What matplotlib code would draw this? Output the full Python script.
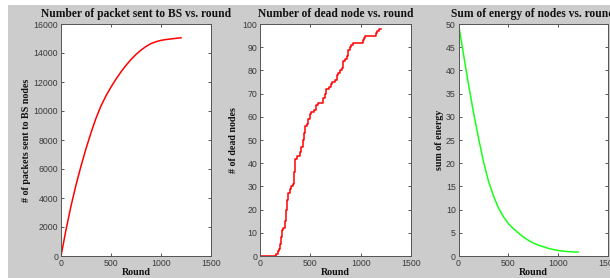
import matplotlib
matplotlib.use("Agg")
import matplotlib.pyplot as plt
from matplotlib.patches import Rectangle

# ---- data ----
rounds_pk = [0, 50, 100, 150, 200, 250, 300, 350, 400, 450, 500, 550, 600, 650, 700,
             750, 800, 850, 900, 950, 1000, 1050, 1100, 1150, 1200]
packets = [0, 1800, 3450, 4900, 6200, 7400, 8500, 9500, 10350, 11050, 11650, 12200,
           12700, 13150, 13550, 13900, 14200, 14450, 14650, 14780, 14870, 14930,
           14970, 15010, 15050]

rounds_dead = [0, 160, 175, 190, 200, 210, 218, 230, 245, 262, 270, 280, 295, 305, 325,
               340, 350, 370, 395, 410, 425, 435, 450, 465, 480, 495, 505, 540, 555,
               575, 630, 645, 660, 690, 705, 720, 745, 760, 775, 790, 815, 825, 845,
               860, 875, 890, 905, 920, 1020, 1035, 1045, 1150, 1165, 1185, 1200]
dead = [0, 1, 2, 3, 5, 8, 11, 12, 15, 20, 24, 27, 29, 30, 31,
        36, 42, 43, 45, 47, 50, 53, 56, 57, 59, 61, 62, 63, 65,
        66, 68, 70, 72, 73, 74, 75, 76, 78, 79, 80, 81, 84, 85,
        86, 89, 90, 91, 92, 93, 94, 95, 96, 97, 98, 98]

rounds_en = rounds_pk
energy = [50, 43.5, 37.0, 31.0, 25.5, 20.4, 16.2, 13.0, 10.4, 8.5, 7.0, 5.9, 5.0, 4.1,
          3.4, 2.8, 2.35, 2.0, 1.65, 1.4, 1.2, 1.05, 0.95, 0.88, 0.85]

titles = ["Number of packet sent to BS vs. round",
          "Number of dead node vs. round",
          "Sum of energy of nodes vs. round"]
ylabels = ["# of packets sent to BS nodes", "# of dead nodes", "sum of energy"]
xlabel = "Round"
xticks = [0, 500, 1000, 1500]
yticks = [[0, 2000, 4000, 6000, 8000, 10000, 12000, 14000, 16000],
          [0, 10, 20, 30, 40, 50, 60, 70, 80, 90, 100],
          [0, 5, 10, 15, 20, 25, 30, 35, 40, 45, 50]]
ylims = [(0, 16000), (0, 100), (0, 50)]

W, H = 610, 278
fig = plt.figure(figsize=(W / 100, H / 100), dpi=100, facecolor="white")
fig.patches.append(Rectangle((8 / W, 0), 1 - 8 / W, 1 - 5 / H, transform=fig.transFigure,
                             facecolor=(0.8, 0.8, 0.8), edgecolor="none", zorder=-10))

bottom = 1 - 256 / H
height = (256 - 24) / H
lefts = [61, 260, 458.5]
widths = [150, 151, 149.5]
ylab_x = [27, 233, 439]

serif = "Liberation Serif"
sans = "Liberation Sans"
tick_col = "#3a3a3a"

axes = []
for i in range(3):
    ax = fig.add_axes([lefts[i] / W, bottom, widths[i] / W, height])
    ax.set_facecolor("white")
    ax.set_xlim(0, 1500)
    ax.set_ylim(*ylims[i])
    ax.set_xticks(xticks)
    ax.set_yticks(yticks[i])
    ax.tick_params(direction="in", top=True, right=True, length=2.5, width=0.6,
                   colors=tick_col, labelsize=6.3, pad=2)
    for lab in ax.get_xticklabels() + ax.get_yticklabels():
        lab.set_family(sans)
    for s in ax.spines.values():
        s.set_color("#555555")
        s.set_linewidth(0.7)
    ax.set_title(titles[i], family=serif, fontweight="bold", fontsize=8.3,
                 color="#111111", pad=5)
    ax.set_xlabel(xlabel, family=serif, fontweight="bold", fontsize=7.2,
                  color="#111111", labelpad=0.5)
    axes.append(ax)

axes[0].plot(rounds_pk, packets, color="red", lw=1.1)
axes[1].plot(rounds_dead, dead, color="red", lw=1.1, drawstyle="steps-post")
axes[2].plot(rounds_en, energy, color=(0.1, 1.0, 0.1), lw=1.1)

for i, ax in enumerate(axes):
    fig.text(ylab_x[i] / W, bottom + height / 2, ylabels[i], rotation=90,
             ha="center", va="center", family=serif, fontweight="bold",
             fontsize=7.2, color="#111111")

fig.savefig("out.png", dpi=100, facecolor="white")
